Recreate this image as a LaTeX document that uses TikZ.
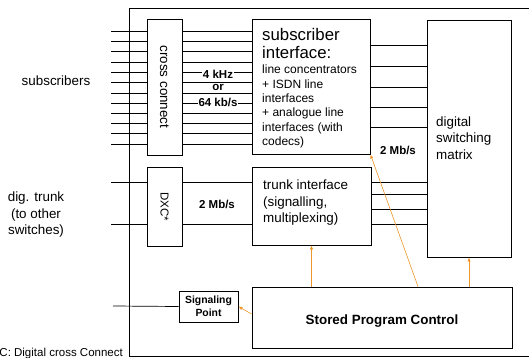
\documentclass[tikz,border=0pt]{standalone}
\usepackage{fontspec}
\setmainfont{Liberation Sans}
\usetikzlibrary{arrows.meta}

\begin{document}
\begin{tikzpicture}[x=1pt,y=-1pt,
  box/.style={draw,line width=0.9pt,inner sep=0pt},
  wire/.style={line width=0.7pt},
  ctl/.style={draw=ctrl,line width=0.6pt,-{Latex[length=4pt,width=3.5pt]}},
  lbl/.style={font=\fontsize{13.4}{16.5}\selectfont,align=left,inner sep=0pt},
  rate/.style={font=\bfseries\fontsize{11.5}{13}\selectfont,inner sep=0.6pt,fill=white}]
% Define control colour
\definecolor{ctrl}{RGB}{238,150,40}

\useasboundingbox (0,0) rectangle (529,358);

% Draw outer frame (open to the right)
\draw[line width=0.9pt] (529,8) -- (129,8) -- (129,356) -- (529,356);

% Draw boxes
\node[box,minimum width=35pt,minimum height=136pt] (cc) at (164.5,87) {};
\node[box,minimum width=35pt,minimum height=79pt] (dxc) at (164.5,206.5) {};
\node[box,minimum width=118pt,minimum height=135pt] (si) at (311,86.5) {};
\node[box,minimum width=119pt,minimum height=78pt] (ti) at (311.5,206) {};
\node[box,minimum width=84pt,minimum height=237pt] (dsm) at (469,138.5) {};
\node[box,minimum width=260pt,minimum height=61pt] (spc) at (382,317.5) {};
\node[box,minimum width=59pt,minimum height=31pt,align=center,font=\bfseries\fontsize{10.4}{12.5}\selectfont] (sp) at (208.5,306.5) {Signaling\\Point};

% Add box texts
\node[lbl,rotate=-90] (cctxt) at (cc) {cross connect};
\node[lbl,rotate=-90,font=\fontsize{11.5}{13}\selectfont] (dxctxt) at (dxc) {DXC*};
\node[lbl,anchor=north west,font=\fontsize{16.8}{18}\selectfont] (sitxt) at (262,28) {subscriber\\interface:};
\node[lbl,anchor=north west,font=\fontsize{12}{14.3}\selectfont] (sitxt2) at (262,65) {line concentrators\\+ ISDN line\\interfaces\\+ analogue line\\interfaces (with\\codecs)};
\node[lbl,anchor=west] (titxt) at (263,203) {trunk interface\\(signalling,\\multiplexing)};
\node[lbl,anchor=west] (dsmtxt) at (436,138) {digital\\switching\\matrix};
\node[lbl,font=\bfseries\fontsize{13.4}{16}\selectfont] (spctxt) at ([yshift=-4pt]spc.center) {Stored Program Control};

% Draw subscriber lines
\coordinate (subin) at (111,0);
\foreach \y in {31,41,51,62,72,82,93,103,113,123,133,144} {
  \draw[wire] (subin |- 0,\y) -- (cc.west |- 0,\y);
  \draw[wire] (cc.east |- 0,\y) -- (si.west |- 0,\y);
}
\foreach \y in {45,66,87,107,127}
  \draw[wire] (si.east |- 0,\y) -- (dsm.west |- 0,\y);

% Draw trunk lines
\coordinate (trin) at (111,0);
\foreach \y in {182,224} {
  \draw[wire] (trin |- 0,\y) -- (dxc.west |- 0,\y);
  \draw[wire] (dxc.east |- 0,\y) -- (ti.west |- 0,\y);
}
\foreach \y in {182,194,209,224}
  \draw[wire] (ti.east |- 0,\y) -- (dsm.west |- 0,\y);

% Draw signalling link
\coordinate (spin) at (113,306);
\draw[wire] (spin) -- (sp.west);

% Add rates
\node[rate] (r1) at (218,74) {4 kHz};
\node[rate] (r2) at (218,87.5) {or};
\node[rate] (r3) at (218,102) {64 kb/s};
\node[rate,fill=none] (r4) at (217,204) {2 Mb/s};
\node[rate,fill=none] (r5) at (398,150) {2 Mb/s};

% Draw control arrows
\draw[ctl] (ti.south |- spc.north) -- (ti.south);
\draw[ctl] (dsm.south |- spc.north) -- (dsm.south);
\draw[ctl] ([xshift=36pt]spc.north) -- (si.south east);
\draw[ctl] ([yshift=3.5pt]spc.west) -- (sp.east);

% Add labels
\node[lbl,align=center] (subs) at (56,81) {subscribers};
\node[lbl,align=center] (trunk) at (36,215) {dig. trunk\\(to other\\switches)};
\node[lbl,anchor=base east,font=\fontsize{11.5}{13}\selectfont] (note) at (123,356) {DXC: Digital cross Connect};
\end{tikzpicture}
\end{document}
